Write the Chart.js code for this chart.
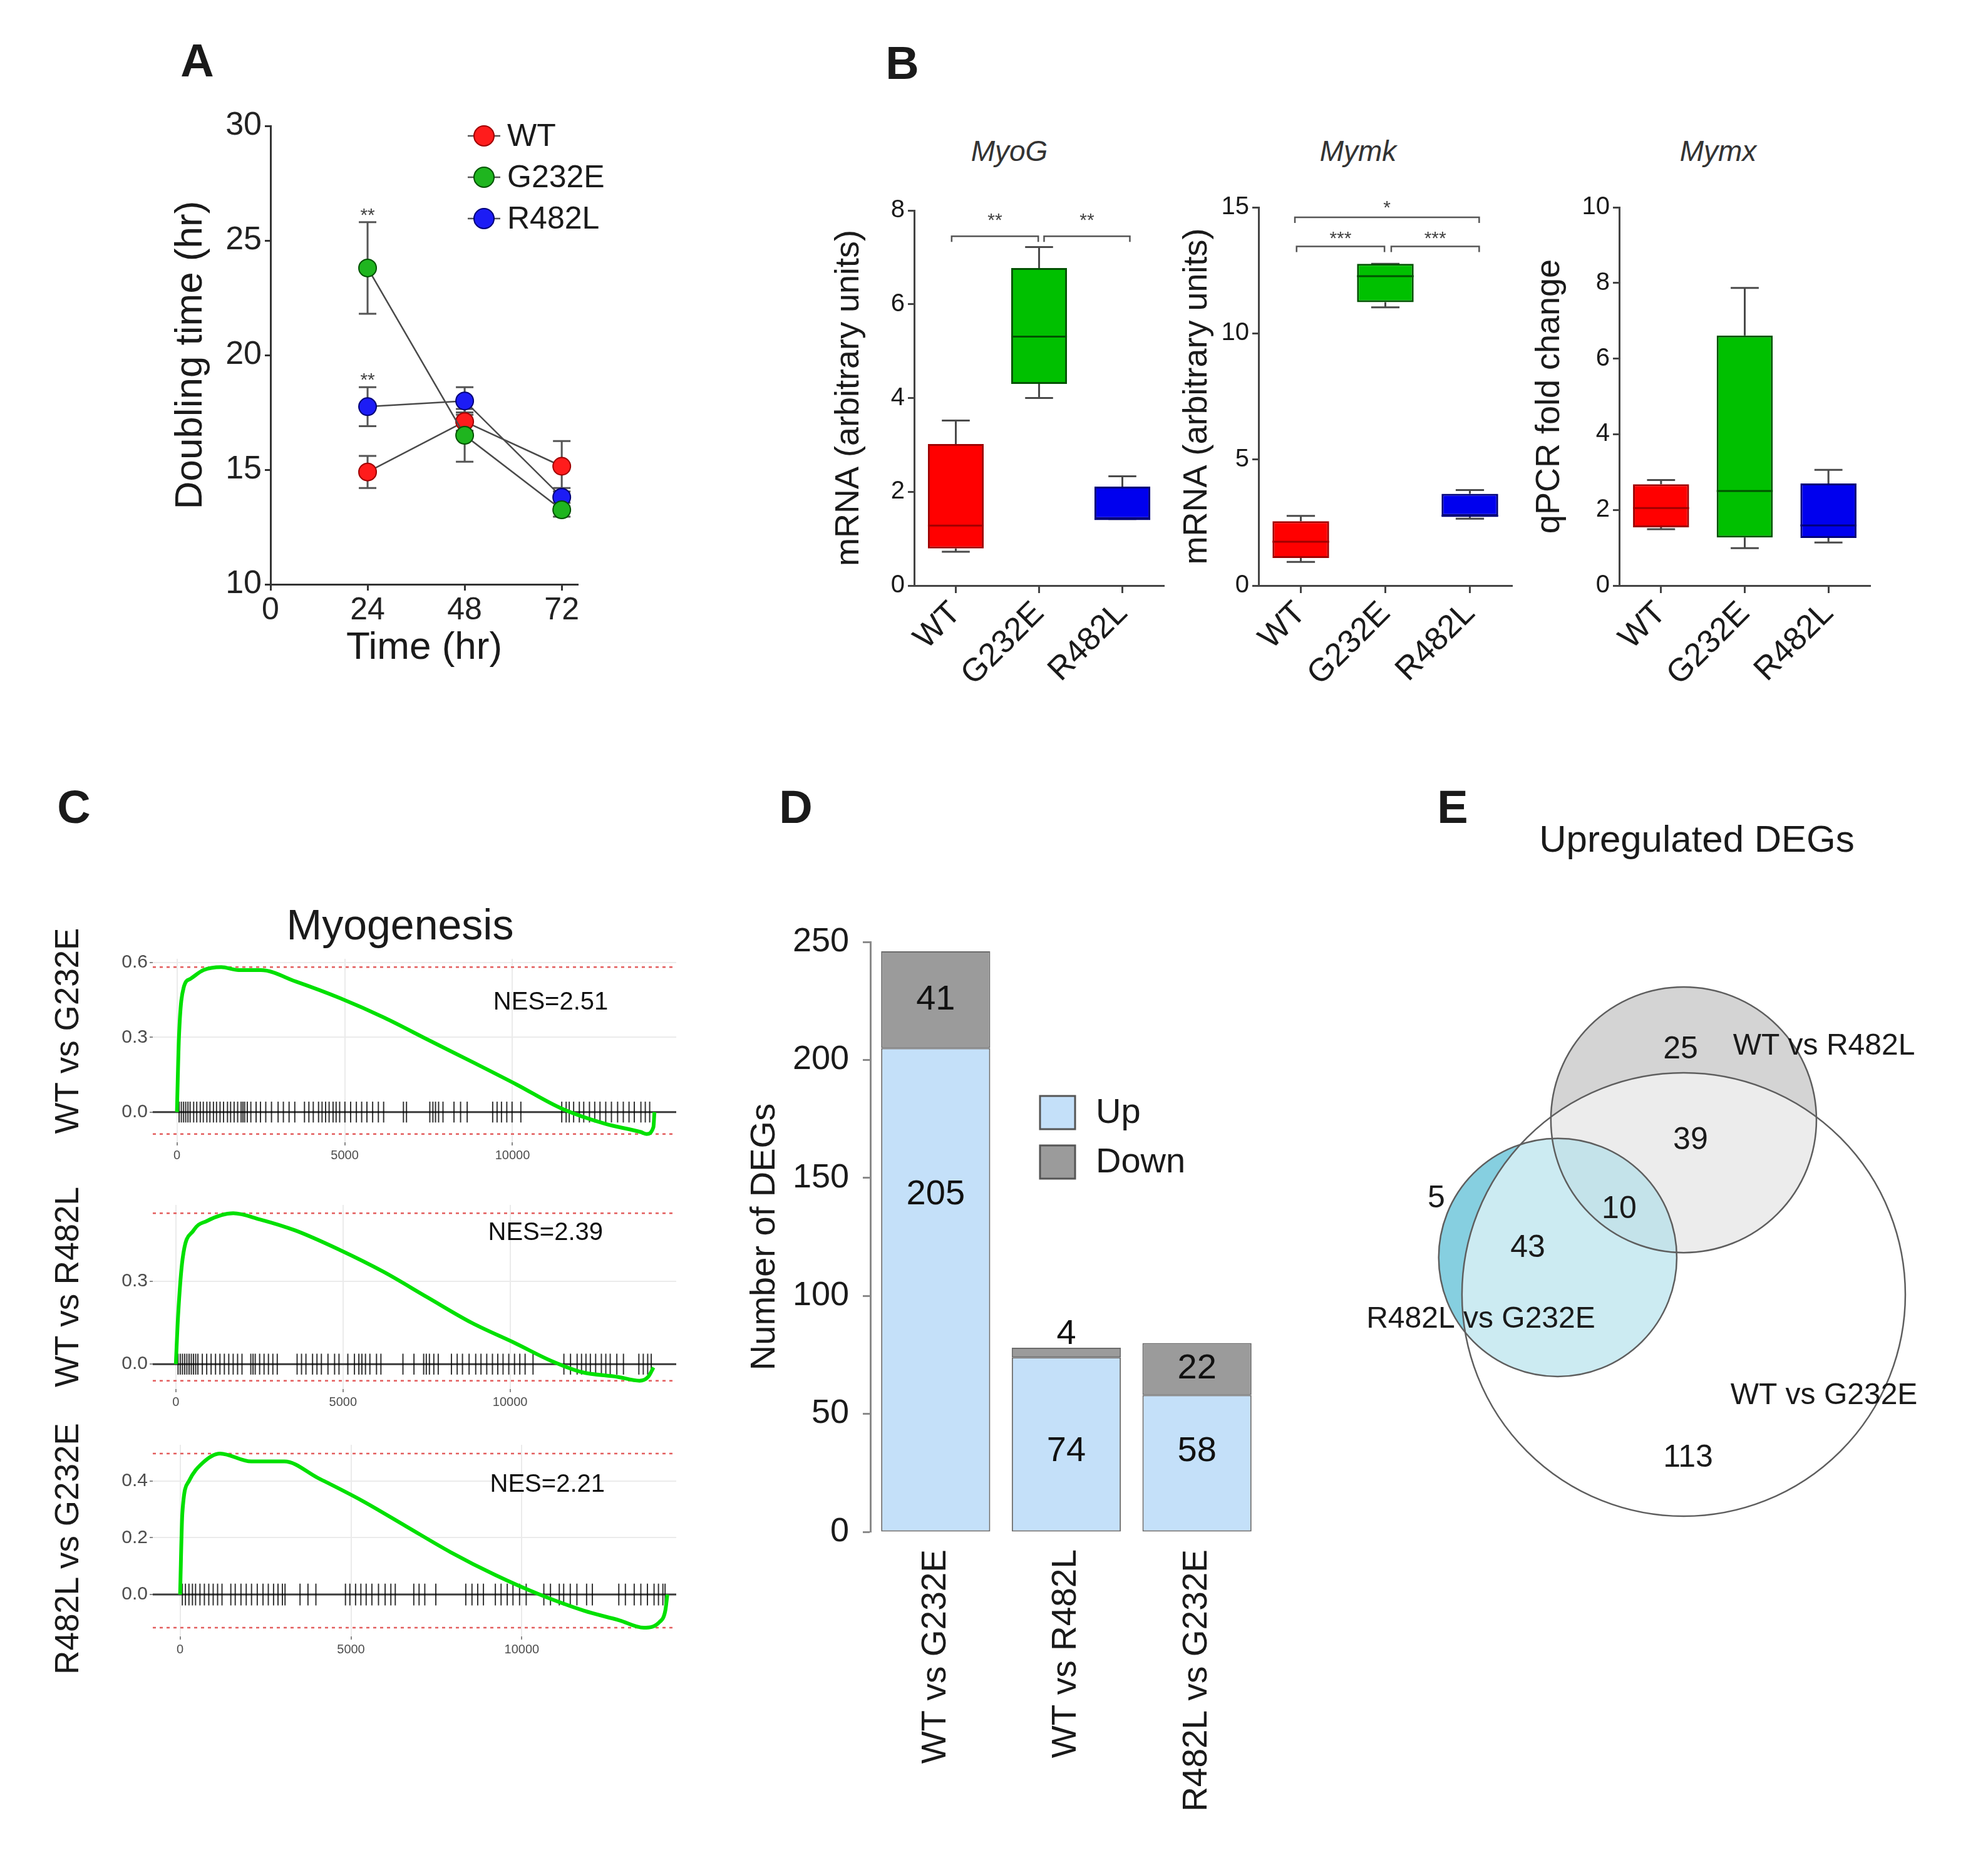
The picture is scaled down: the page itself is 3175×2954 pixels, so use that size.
<!DOCTYPE html>
<html>
<head>
<meta charset="utf-8">
<title>Figure</title>
<script src="https://cdn.jsdelivr.net/npm/chart.js@4.4.1/dist/chart.umd.min.js"></script>
<style>
  html, body { margin: 0; padding: 0; background: #fff; }
  #fig { position: relative; width: 3175px; height: 2954px; overflow: hidden; background: #fff;
         font-family: 'Liberation Sans', Arial, sans-serif; color: #1a1a1a; }
  #fig canvas { position: absolute; }
  .lbl { position: absolute; white-space: nowrap; line-height: 1; transform: translate(-50%, -50%); }
  .rot { transform: translate(-50%, -50%) rotate(-90deg); }
  .letter { font-weight: bold; }
</style>
</head>
<body>
<div id="fig"></div>
<script>
// ---------- data ----------
const groups = ['WT', 'G232E', 'R482L'];

// A: doubling time (mean, sem)
const timeHr = [24, 48, 72];
const wtDoubling = [14.9, 17.1, 15.15];
const wtDoublingSem = [0.7, 0.4, 1.1];
const g232eDoubling = [23.8, 16.5, 13.25];
const g232eDoublingSem = [2.0, 1.15, 0.3];
const r482lDoubling = [17.75, 18.0, 13.8];
const r482lDoublingSem = [0.85, 0.6, 0.4];
const doublingStars = ['**', '', ''];

// B: box plots, per group [min, q1, median, q3, max]
const myogStats = [[0.72, 0.79, 1.28, 3.02, 3.52], [4.0, 4.3, 5.31, 6.77, 7.22], [1.42, 1.42, 1.42, 2.11, 2.33]];
const mymkStats = [[0.94, 1.09, 1.74, 2.55, 2.76], [11.03, 11.24, 12.27, 12.76, 12.76], [2.65, 2.76, 2.76, 3.64, 3.79]];
const mymxStats = [[1.49, 1.54, 2.05, 2.68, 2.79], [0.99, 1.27, 2.5, 6.61, 7.87], [1.14, 1.26, 1.59, 2.7, 3.06]];
const myogBrackets = [{ from: -0.05, to: 0.99, y: 7.45, text: '**', textY: 7.85 }, { from: 1.06, to: 2.09, y: 7.45, text: '**', textY: 7.85 }];
const mymkBrackets = [{ from: -0.07, to: 2.11, y: 14.6, text: '*', textY: 15.1 },
                      { from: -0.05, to: 0.99, y: 13.45, text: '***', textY: 13.9 },
                      { from: 1.07, to: 2.11, y: 13.45, text: '***', textY: 13.9 }];

// C: GSEA running enrichment score (rank, ES) and hit ranks
const gseaComparisons = ['WT vs G232E', 'WT vs R482L', 'R482L vs G232E'];
const gseaNES = [2.51, 2.39, 2.21];
const gseaRankTicks = [0, 5000, 10000];
const gseaRank1 = [0, 60, 200, 400, 790, 1320, 1840, 2500, 3550, 4870, 6180, 7500, 8820, 10130, 11450, 12760, 13820, 14000, 14200, 14230];
const gseaES1 = [0, 0.30, 0.50, 0.535, 0.57, 0.582, 0.57, 0.57, 0.524, 0.457, 0.379, 0.289, 0.20, 0.11, 0.015, -0.047, -0.08, -0.088, -0.06, 0];
const gseaHits1 = [65, 131, 197, 262, 328, 393, 498, 590, 695, 786, 891, 983, 1088, 1180, 1285, 1389, 1507, 1599, 1704, 1809, 1913, 1966, 2018, 2097, 2202,
  2359, 2490, 2647, 2818, 3015, 3172, 3342, 3512, 3801, 3932, 4063, 4220, 4325, 4430, 4535, 4653, 4744, 4849,
  5006, 5177, 5347, 5505, 5662, 5832, 6003, 6160, 6750, 6841, 7536, 7628, 7706, 7798, 7929, 8257, 8453, 8650,
  9410, 9541, 9672, 9830, 9987, 10249, 11468, 11599, 11691, 11822, 11992, 12123, 12294, 12451, 12608, 12779,
  12949, 13133, 13303, 13473, 13630, 13827, 13958, 14089];
const gseaRank2 = [0, 66, 200, 530, 925, 1720, 2510, 3570, 4890, 6210, 7530, 8850, 10170, 11230, 12150, 13210, 13870, 14130, 14290];
const gseaES2 = [0, 0.173, 0.38, 0.485, 0.519, 0.547, 0.525, 0.485, 0.415, 0.335, 0.242, 0.15, 0.075, 0.012, -0.029, -0.046, -0.06, -0.046, -0.012];
const gseaHits2 = [66, 132, 198, 264, 330, 396, 462, 528, 594, 660, 792, 923, 1055, 1187, 1319, 1451, 1583, 1715, 1847, 1979,
  2243, 2309, 2375, 2507, 2639, 2770, 2902, 3034, 3628, 3760, 3892, 4090, 4222, 4354, 4551, 4749, 4881, 5145,
  5343, 5475, 5567, 5673, 5805, 6003, 6135, 6794, 7124, 7414, 7493, 7586, 7718, 7850, 8245, 8417, 8575, 8773,
  8971, 9129, 9301, 9472, 9631, 9789, 9960, 10132, 10290, 10449, 10686, 11609, 11807, 12005, 12137, 12269,
  12401, 12559, 12731, 12863, 12995, 13193, 13391, 13852, 13984, 14116, 14222];
const gseaRank3 = [0, 65, 260, 650, 1170, 2080, 3050, 4030, 5320, 6620, 7920, 9220, 10520, 11820, 12860, 13570, 14030, 14200, 14260];
const gseaES3 = [0, 0.286, 0.40, 0.463, 0.497, 0.469, 0.469, 0.411, 0.331, 0.24, 0.149, 0.069, 0, -0.057, -0.091, -0.117, -0.097, -0.057, 0];
const gseaHits3 = [65, 155, 258, 361, 452, 581, 710, 839, 968, 1097, 1226, 1484, 1613, 1781, 1935, 2090, 2258, 2426, 2581,
  2735, 2865, 2994, 3071, 3510, 3742, 3974, 4839, 4968, 5135, 5290, 5445, 5613, 5806, 6000, 6168, 6297,
  6839, 6994, 7161, 7484, 8361, 8542, 8710, 8877, 9226, 9394, 9574, 9742, 9935, 10129, 10645, 10839,
  11097, 11226, 11419, 11613, 11897, 12065, 12839, 13032, 13290, 13484, 13677, 13871, 14000, 14129, 14194];

// D: DEG counts
const degComparisons = ['WT vs G232E', 'WT vs R482L', 'R482L vs G232E'];
const degUp = [205, 74, 58];
const degDown = [41, 4, 22];

// E: upregulated DEG overlaps
const vennSetNames = ['WT vs R482L', 'R482L vs G232E', 'WT vs G232E'];
const vennRegionCounts = [25, 39, 10, 5, 43, 113];

// ---------- helpers ----------
const FONT = "'Liberation Sans', Arial, sans-serif";
Chart.defaults.font.family = FONT;
Chart.defaults.color = '#1a1a1a';

const fig = document.getElementById('fig');
const groupPoint = ['#ff1c1c', '#1fb51f', '#1c1cf5'];
const groupFill = ['#ff0000', '#00c000', '#0000ee'];
const groupEdge = ['#a00000', '#005200', '#000078'];

function addText(str, x, y, size, cls, style) {
  const d = document.createElement('div');
  d.className = 'lbl ' + (cls || '');
  d.textContent = str;
  d.style.left = x + 'px';
  d.style.top = y + 'px';
  d.style.fontSize = size + 'px';
  if (style) Object.assign(d.style, style);
  fig.appendChild(d);
}

// canvas rect c and wanted chart area a, both in page pixels
function frame(c, a) {
  const el = document.createElement('canvas');
  el.width = c.r - c.l;
  el.height = c.b - c.t;
  el.style.left = c.l + 'px';
  el.style.top = c.t + 'px';
  fig.appendChild(el);
  return {
    el,
    padding: { left: 0, top: a.t - c.t, right: c.r - a.r, bottom: 0 },
    yFit: s => { s.width = a.l - c.l; },
    xFit: s => { s.height = c.b - a.b; }
  };
}

function baseOptions(f, scales) {
  return {
    responsive: false,
    animation: false,
    devicePixelRatio: 1,
    layout: { padding: f.padding },
    plugins: { legend: { display: false }, tooltip: { enabled: false } },
    scales
  };
}

// ---------- panel letters and titles ----------
addText('A', 315, 97, 74, 'letter');
addText('B', 1441, 101, 74, 'letter');
addText('C', 118, 1289, 74, 'letter');
addText('D', 1271, 1289, 74, 'letter');
addText('E', 2320, 1289, 74, 'letter');
addText('MyoG', 1612, 241, 46, '', { fontStyle: 'italic', color: '#333' });
addText('Mymk', 2169, 241, 46, '', { fontStyle: 'italic', color: '#333' });
addText('Mymx', 2744, 241, 46, '', { fontStyle: 'italic', color: '#333' });
addText('Myogenesis', 639, 1476, 68);
addText(gseaComparisons[0], 106, 1646, 53, 'rot');
addText(gseaComparisons[1], 106, 2055, 53, 'rot');
addText(gseaComparisons[2], 106, 2473, 53, 'rot');
addText('Upregulated DEGs', 2710, 1340, 60);

// ---------- A ----------
const errorBars = {
  id: 'errorBars',
  beforeDatasetsDraw(chart) {
    const { ctx, scales: { x, y } } = chart;
    ctx.save();
    ctx.strokeStyle = '#555';
    ctx.lineWidth = 3;
    chart.data.datasets.forEach(ds => {
      ds.data.forEach((p, i) => {
        const px = x.getPixelForValue(p.x);
        const hi = y.getPixelForValue(p.y + ds.sem[i]);
        const lo = y.getPixelForValue(p.y - ds.sem[i]);
        ctx.beginPath();
        ctx.moveTo(px, hi); ctx.lineTo(px, lo);
        ctx.moveTo(px - 14, hi); ctx.lineTo(px + 14, hi);
        ctx.moveTo(px - 14, lo); ctx.lineTo(px + 14, lo);
        ctx.stroke();
      });
    });
    ctx.restore();
  },
  afterDatasetsDraw(chart) {
    const { ctx, scales: { x, y } } = chart;
    ctx.save();
    ctx.fillStyle = '#444';
    ctx.font = '30px ' + FONT;
    ctx.textAlign = 'center';
    ctx.textBaseline = 'middle';
    chart.data.datasets.forEach(ds => {
      if (!ds.stars) return;
      ds.data.forEach((p, i) => {
        if (!ds.stars[i]) return;
        ctx.fillText(ds.stars[i], x.getPixelForValue(p.x), y.getPixelForValue(p.y + ds.sem[i] + 0.45) + 6);
      });
    });
    ctx.restore();
  }
};

const legendA = {
  id: 'legendA',
  afterDraw(chart) {
    const { ctx } = chart;
    ctx.save();
    ctx.font = '50px ' + FONT;
    ctx.textBaseline = 'middle';
    [0, 1, 2].forEach(i => {
      const cy = 67 + i * 66;
      ctx.strokeStyle = '#555';
      ctx.lineWidth = 2.5;
      ctx.beginPath(); ctx.moveTo(497, cy); ctx.lineTo(549, cy); ctx.stroke();
      ctx.beginPath(); ctx.arc(523, cy, 16, 0, Math.PI * 2);
      ctx.fillStyle = groupPoint[i]; ctx.fill();
      ctx.strokeStyle = groupEdge[i]; ctx.lineWidth = 2; ctx.stroke();
      ctx.fillStyle = '#1a1a1a';
      ctx.fillText(groups[i], 560, cy + 2);
    });
    ctx.restore();
  }
};

function doublingSet(i, mean, sem, order, stars) {
  return {
    label: groups[i],
    data: timeHr.map((t, k) => ({ x: t, y: mean[k] })),
    sem, stars, order,
    borderColor: '#4a4a4a', borderWidth: 2.5,
    pointRadius: 14, pointBackgroundColor: groupPoint[i], pointBorderColor: groupEdge[i], pointBorderWidth: 2
  };
}

const fa = frame({ l: 250, t: 150, r: 1000, b: 1100 }, { l: 432, t: 201, r: 923, b: 933 });
new Chart(fa.el, {
  type: 'line',
  data: {
    datasets: [
      doublingSet(0, wtDoubling, wtDoublingSem, 1, null),
      doublingSet(1, g232eDoubling, g232eDoublingSem, 0, doublingStars),
      doublingSet(2, r482lDoubling, r482lDoublingSem, 2, doublingStars)
    ]
  },
  options: baseOptions(fa, {
    x: {
      type: 'linear', min: 0, max: 76, afterFit: fa.xFit,
      afterBuildTicks: s => { s.ticks = [0, ...timeHr].map(v => ({ value: v })); },
      ticks: { maxRotation: 0, font: { size: 50 }, color: '#222', padding: 2 },
      grid: { drawOnChartArea: false, tickLength: 10, tickColor: '#333', tickWidth: 3 },
      border: { color: '#333', width: 3 },
      title: { display: true, text: 'Time (hr)', font: { size: 62 }, color: '#1a1a1a', padding: { top: 0, bottom: 28 } }
    },
    y: {
      min: 10, max: 30, afterFit: fa.yFit,
      ticks: { stepSize: 5, font: { size: 52 }, color: '#222', padding: 5 },
      grid: { drawOnChartArea: false, tickLength: 9, tickColor: '#333', tickWidth: 3 },
      border: { color: '#333', width: 3 },
      title: { display: true, text: 'Doubling time (hr)', font: { size: 62 }, color: '#1a1a1a', padding: { top: 18, bottom: 0 } }
    }
  }),
  plugins: [errorBars, legendA]
});

// ---------- B ----------
function boxWhiskers(stats) {
  return {
    id: 'boxWhiskers',
    beforeDatasetsDraw(chart) {
      const { ctx, scales: { y } } = chart;
      const meta = chart.getDatasetMeta(0);
      ctx.save();
      ctx.strokeStyle = '#4a4a4a';
      ctx.lineWidth = 3;
      meta.data.forEach((bar, i) => {
        const s = stats[i];
        const cap = bar.width * 0.25;
        const pMin = y.getPixelForValue(s[0]), pQ1 = y.getPixelForValue(s[1]);
        const pQ3 = y.getPixelForValue(s[3]), pMax = y.getPixelForValue(s[4]);
        ctx.beginPath();
        ctx.moveTo(bar.x, pQ3); ctx.lineTo(bar.x, pMax);
        ctx.moveTo(bar.x - cap, pMax); ctx.lineTo(bar.x + cap, pMax);
        ctx.moveTo(bar.x, pQ1); ctx.lineTo(bar.x, pMin);
        ctx.moveTo(bar.x - cap, pMin); ctx.lineTo(bar.x + cap, pMin);
        ctx.stroke();
      });
      ctx.restore();
    },
    afterDatasetsDraw(chart) {
      const { ctx, scales: { y } } = chart;
      const meta = chart.getDatasetMeta(0);
      ctx.save();
      ctx.lineWidth = 3;
      meta.data.forEach((bar, i) => {
        const pMed = y.getPixelForValue(stats[i][2]);
        ctx.strokeStyle = groupEdge[i];
        ctx.beginPath();
        ctx.moveTo(bar.x - bar.width / 2, pMed); ctx.lineTo(bar.x + bar.width / 2, pMed);
        ctx.stroke();
      });
      ctx.restore();
    }
  };
}

function sigBrackets(list) {
  return {
    id: 'sigBrackets',
    afterDatasetsDraw(chart) {
      const { ctx, scales: { x, y } } = chart;
      ctx.save();
      ctx.strokeStyle = '#555';
      ctx.lineWidth = 2.5;
      ctx.fillStyle = '#444';
      ctx.font = '30px ' + FONT;
      ctx.textAlign = 'center';
      ctx.textBaseline = 'middle';
      list.forEach(b => {
        const x0 = x.getPixelForValue(b.from), x1 = x.getPixelForValue(b.to);
        const py = y.getPixelForValue(b.y);
        ctx.beginPath();
        ctx.moveTo(x0, py + 9); ctx.lineTo(x0, py); ctx.lineTo(x1, py); ctx.lineTo(x1, py + 9);
        ctx.stroke();
        ctx.fillText(b.text, (x0 + x1) / 2, y.getPixelForValue(b.textY) + 6);
      });
      ctx.restore();
    }
  };
}

function boxPanel(c, a, stats, yMax, yStep, yTitle, titlePad, brackets) {
  const f = frame(c, a);
  return new Chart(f.el, {
    type: 'bar',
    data: {
      labels: groups,
      datasets: [{
        data: stats.map(s => [s[1], s[3]]),
        backgroundColor: groupFill, borderColor: groupEdge, borderWidth: 3, borderSkipped: false,
        barPercentage: 0.67, categoryPercentage: 1
      }]
    },
    options: baseOptions(f, {
      x: {
        afterFit: f.xFit,
        ticks: { minRotation: 45, maxRotation: 45, autoSkip: false, font: { size: 52 }, color: '#1a1a1a', padding: 2 },
        grid: { offset: false, drawOnChartArea: false, tickLength: 12, tickColor: '#444', tickWidth: 3 },
        border: { color: '#444', width: 3 }
      },
      y: {
        min: 0, max: yMax, afterFit: f.yFit,
        ticks: { stepSize: yStep, font: { size: 40 }, color: '#1a1a1a', padding: 5 },
        grid: { drawOnChartArea: false, tickLength: 10, tickColor: '#444', tickWidth: 3 },
        border: { color: '#444', width: 3 },
        title: { display: true, text: yTitle, font: { size: 54 }, color: '#1a1a1a', padding: { top: titlePad, bottom: 0 } }
      }
    }),
    plugins: [boxWhiskers(stats), sigBrackets(brackets)]
  });
}

boxPanel({ l: 1300, t: 280, r: 1880, b: 1110 }, { l: 1460, t: 336, r: 1859, b: 935 },
  myogStats, 8, 2, 'mRNA (arbitrary units)', 24, myogBrackets);
boxPanel({ l: 1878, t: 275, r: 2440, b: 1110 }, { l: 2010, t: 331, r: 2415, b: 935 },
  mymkStats, 15, 5, 'mRNA (arbitrary units)', 2, mymkBrackets);
boxPanel({ l: 2440, t: 275, r: 3040, b: 1110 }, { l: 2586, t: 331, r: 2987, b: 935 },
  mymxStats, 10, 2, 'qPCR fold change', 3, []);

// ---------- C ----------
function gseaDecor(hits, top, bot, nes, nesAt) {
  return {
    id: 'gseaDecor',
    beforeDatasetsDraw(chart) {
      const { ctx, chartArea: ca, scales: { x, y } } = chart;
      const half = (top - bot) / 16;
      ctx.save();
      ctx.strokeStyle = '#e35d5d';
      ctx.lineWidth = 2.5;
      ctx.setLineDash([5, 6]);
      [top, bot].forEach(v => {
        const py = y.getPixelForValue(v);
        ctx.beginPath(); ctx.moveTo(ca.left, py); ctx.lineTo(ca.right, py); ctx.stroke();
      });
      ctx.setLineDash([]);
      ctx.strokeStyle = '#3a3a3a';
      ctx.lineWidth = 3;
      const y0 = y.getPixelForValue(0);
      ctx.beginPath(); ctx.moveTo(ca.left, y0); ctx.lineTo(ca.right, y0); ctx.stroke();
      ctx.strokeStyle = 'rgba(0,0,0,0.8)';
      ctx.lineWidth = 2;
      hits.forEach(h => {
        const px = x.getPixelForValue(h);
        ctx.beginPath();
        ctx.moveTo(px, y.getPixelForValue(-half));
        ctx.lineTo(px, y.getPixelForValue(half));
        ctx.stroke();
      });
      ctx.restore();
    },
    afterDatasetsDraw(chart) {
      const { ctx, scales: { x, y } } = chart;
      ctx.save();
      ctx.fillStyle = '#111';
      ctx.font = '40px ' + FONT;
      ctx.textAlign = 'center';
      ctx.textBaseline = 'middle';
      ctx.fillText('NES=' + nes.toFixed(2), x.getPixelForValue(nesAt[0]), y.getPixelForValue(nesAt[1]));
      ctx.restore();
    }
  };
}

function gseaPanel(c, a, ranks, es, hits, xMin, xMax, yStep, nes, nesAt) {
  const f = frame(c, a);
  const top = Math.max(...es), bot = Math.min(...es);
  const pad = (top - bot) * 0.05;
  return new Chart(f.el, {
    type: 'line',
    data: {
      datasets: [{
        data: ranks.map((r, i) => ({ x: r, y: es[i] })),
        borderColor: '#00e000', borderWidth: 6, pointRadius: 0, cubicInterpolationMode: 'monotone'
      }]
    },
    options: baseOptions(f, {
      x: {
        type: 'linear', min: xMin, max: xMax, afterFit: f.xFit,
        afterBuildTicks: s => { s.ticks = gseaRankTicks.map(v => ({ value: v })); },
        ticks: { maxRotation: 0, font: { size: 20 }, color: '#4d4d4d', padding: 4, callback: v => String(v) },
        grid: { color: '#ebebeb', lineWidth: 2, tickLength: 5, tickColor: '#888' },
        border: { display: false }
      },
      y: {
        min: bot - pad, max: top + pad, afterFit: f.yFit,
        ticks: { stepSize: yStep, includeBounds: false, font: { size: 30 }, color: '#4d4d4d', padding: 3,
                 callback: v => v.toFixed(1) },
        grid: { color: '#ebebeb', lineWidth: 2, tickLength: 5, tickColor: '#888' },
        border: { display: false }
      }
    }),
    plugins: [gseaDecor(hits, top, bot, nes, nesAt)]
  });
}

gseaPanel({ l: 150, t: 1495, r: 1100, b: 1870 }, { l: 244, t: 1531, r: 1080, b: 1824 },
  gseaRank1, gseaES1, gseaHits1, -720, 14880, 0.3, gseaNES[0], [11140, 0.44]);
gseaPanel({ l: 150, t: 1885, r: 1100, b: 2262 }, { l: 244, t: 1924, r: 1080, b: 2218 },
  gseaRank2, gseaES2, gseaHits2, -690, 14970, 0.3, gseaNES[1], [11060, 0.475]);
gseaPanel({ l: 150, t: 2270, r: 1100, b: 2660 }, { l: 244, t: 2307, r: 1080, b: 2613 },
  gseaRank3, gseaES3, gseaHits3, -800, 14520, 0.2, gseaNES[2], [10750, 0.387]);

// ---------- D ----------
const upLabelAt = [143, 34, 34];
const degLabels = {
  id: 'degLabels',
  afterDatasetsDraw(chart) {
    const { ctx, scales: { y } } = chart;
    const up = chart.getDatasetMeta(0), down = chart.getDatasetMeta(1);
    ctx.save();
    ctx.fillStyle = '#111';
    ctx.font = '56px ' + FONT;
    ctx.textAlign = 'center';
    ctx.textBaseline = 'middle';
    degUp.forEach((v, i) => {
      const bx = up.data[i].x;
      ctx.fillText(String(v), bx, y.getPixelForValue(upLabelAt[i]));
      const segTop = y.getPixelForValue(v + degDown[i]);
      const segBot = y.getPixelForValue(v);
      const ly = segBot - segTop > 60 ? (segTop + segBot) / 2 : segTop - 22;
      ctx.fillText(String(degDown[i]), down.data[i].x, ly);
    });
    // legend
    ctx.textAlign = 'left';
    [['Up', '#c4e0f9', 302], ['Down', '#9b9b9b', 381]].forEach(([t, col, top]) => {
      ctx.fillStyle = col;
      ctx.fillRect(491, top, 56, 53);
      ctx.strokeStyle = '#555';
      ctx.lineWidth = 3;
      ctx.strokeRect(491, top, 56, 53);
      ctx.fillStyle = '#1a1a1a';
      ctx.fillText(t, 580, top + 28);
    });
    ctx.restore();
  }
};

const fd = frame({ l: 1170, t: 1448, r: 2050, b: 2920 }, { l: 1390, t: 1504, r: 2016, b: 2446 });
new Chart(fd.el, {
  type: 'bar',
  data: {
    labels: degComparisons,
    datasets: [
      { label: 'Up', data: degUp, backgroundColor: '#c4e0f9', borderColor: '#6b6b6b', borderWidth: 2,
        borderSkipped: false, barPercentage: 0.835, categoryPercentage: 1 },
      { label: 'Down', data: degDown, backgroundColor: '#9b9b9b', borderColor: '#6b6b6b', borderWidth: 2,
        borderSkipped: false, barPercentage: 0.835, categoryPercentage: 1 }
    ]
  },
  options: baseOptions(fd, {
    x: {
      stacked: true, afterFit: fd.xFit,
      ticks: { minRotation: 90, maxRotation: 90, autoSkip: false, font: { size: 55 }, color: '#1a1a1a', padding: 20 },
      grid: { display: false },
      border: { display: false }
    },
    y: {
      stacked: true, min: 0, max: 250, afterFit: fd.yFit,
      ticks: { stepSize: 50, font: { size: 54 }, color: '#1a1a1a', padding: 22 },
      grid: { drawOnChartArea: false, tickLength: 12, tickColor: '#8a8a8a', tickWidth: 3 },
      border: { color: '#8a8a8a', width: 3 },
      title: { display: true, text: 'Number of DEGs', font: { size: 56 }, color: '#1a1a1a', padding: { top: 18, bottom: 0 } }
    }
  }),
  plugins: [degLabels]
});

// ---------- E ----------
// circle layout in venn units (big set = unit circle)
const vennCircles = [
  { cx: 0, cy: 0.788, r: 0.599, fill: 'rgba(170,170,170,0.5)' },
  { cx: -0.568, cy: 0.167, r: 0.537, fill: 'rgba(53,175,203,0.6)' },
  { cx: 0, cy: 0, r: 1.0, fill: 'rgba(255,255,255,0.58)' }
];
const vennCountAt = [[-0.014, 1.105], [0.031, 0.695], [-0.291, 0.384], [-1.116, 0.432], [-0.703, 0.209], [0.02, -0.737]];
const vennNameAt = [[0.633, 1.119], [-0.915, -0.113], [0.633, -0.458]];

const vennDraw = {
  id: 'vennDraw',
  afterDraw(chart) {
    const { ctx, scales: { x, y } } = chart;
    const rad = c => x.getPixelForValue(c.cx + c.r) - x.getPixelForValue(c.cx);
    ctx.save();
    vennCircles.forEach(c => {
      ctx.beginPath();
      ctx.arc(x.getPixelForValue(c.cx), y.getPixelForValue(c.cy), rad(c), 0, Math.PI * 2);
      ctx.fillStyle = c.fill;
      ctx.fill();
    });
    ctx.strokeStyle = '#5e5e5e';
    ctx.lineWidth = 2.5;
    vennCircles.forEach(c => {
      ctx.beginPath();
      ctx.arc(x.getPixelForValue(c.cx), y.getPixelForValue(c.cy), rad(c), 0, Math.PI * 2);
      ctx.stroke();
    });
    ctx.fillStyle = '#1a1a1a';
    ctx.textAlign = 'center';
    ctx.textBaseline = 'middle';
    ctx.font = '50px ' + FONT;
    vennRegionCounts.forEach((n, i) => {
      ctx.fillText(String(n), x.getPixelForValue(vennCountAt[i][0]), y.getPixelForValue(vennCountAt[i][1]));
    });
    ctx.font = '48px ' + FONT;
    vennSetNames.forEach((s, i) => {
      ctx.fillText(s, x.getPixelForValue(vennNameAt[i][0]), y.getPixelForValue(vennNameAt[i][1]));
    });
    ctx.restore();
  }
};

const fe = frame({ l: 2120, t: 1380, r: 3175, b: 2450 }, { l: 2120, t: 1380, r: 3175, b: 2450 });
new Chart(fe.el, {
  type: 'scatter',
  data: { datasets: [] },
  options: baseOptions(fe, {
    x: { type: 'linear', display: false, min: -1.607, max: 1.373 },
    y: { type: 'linear', display: false, min: -1.082, max: 1.941 }
  }),
  plugins: [vennDraw]
});
</script>
</body>
</html>
